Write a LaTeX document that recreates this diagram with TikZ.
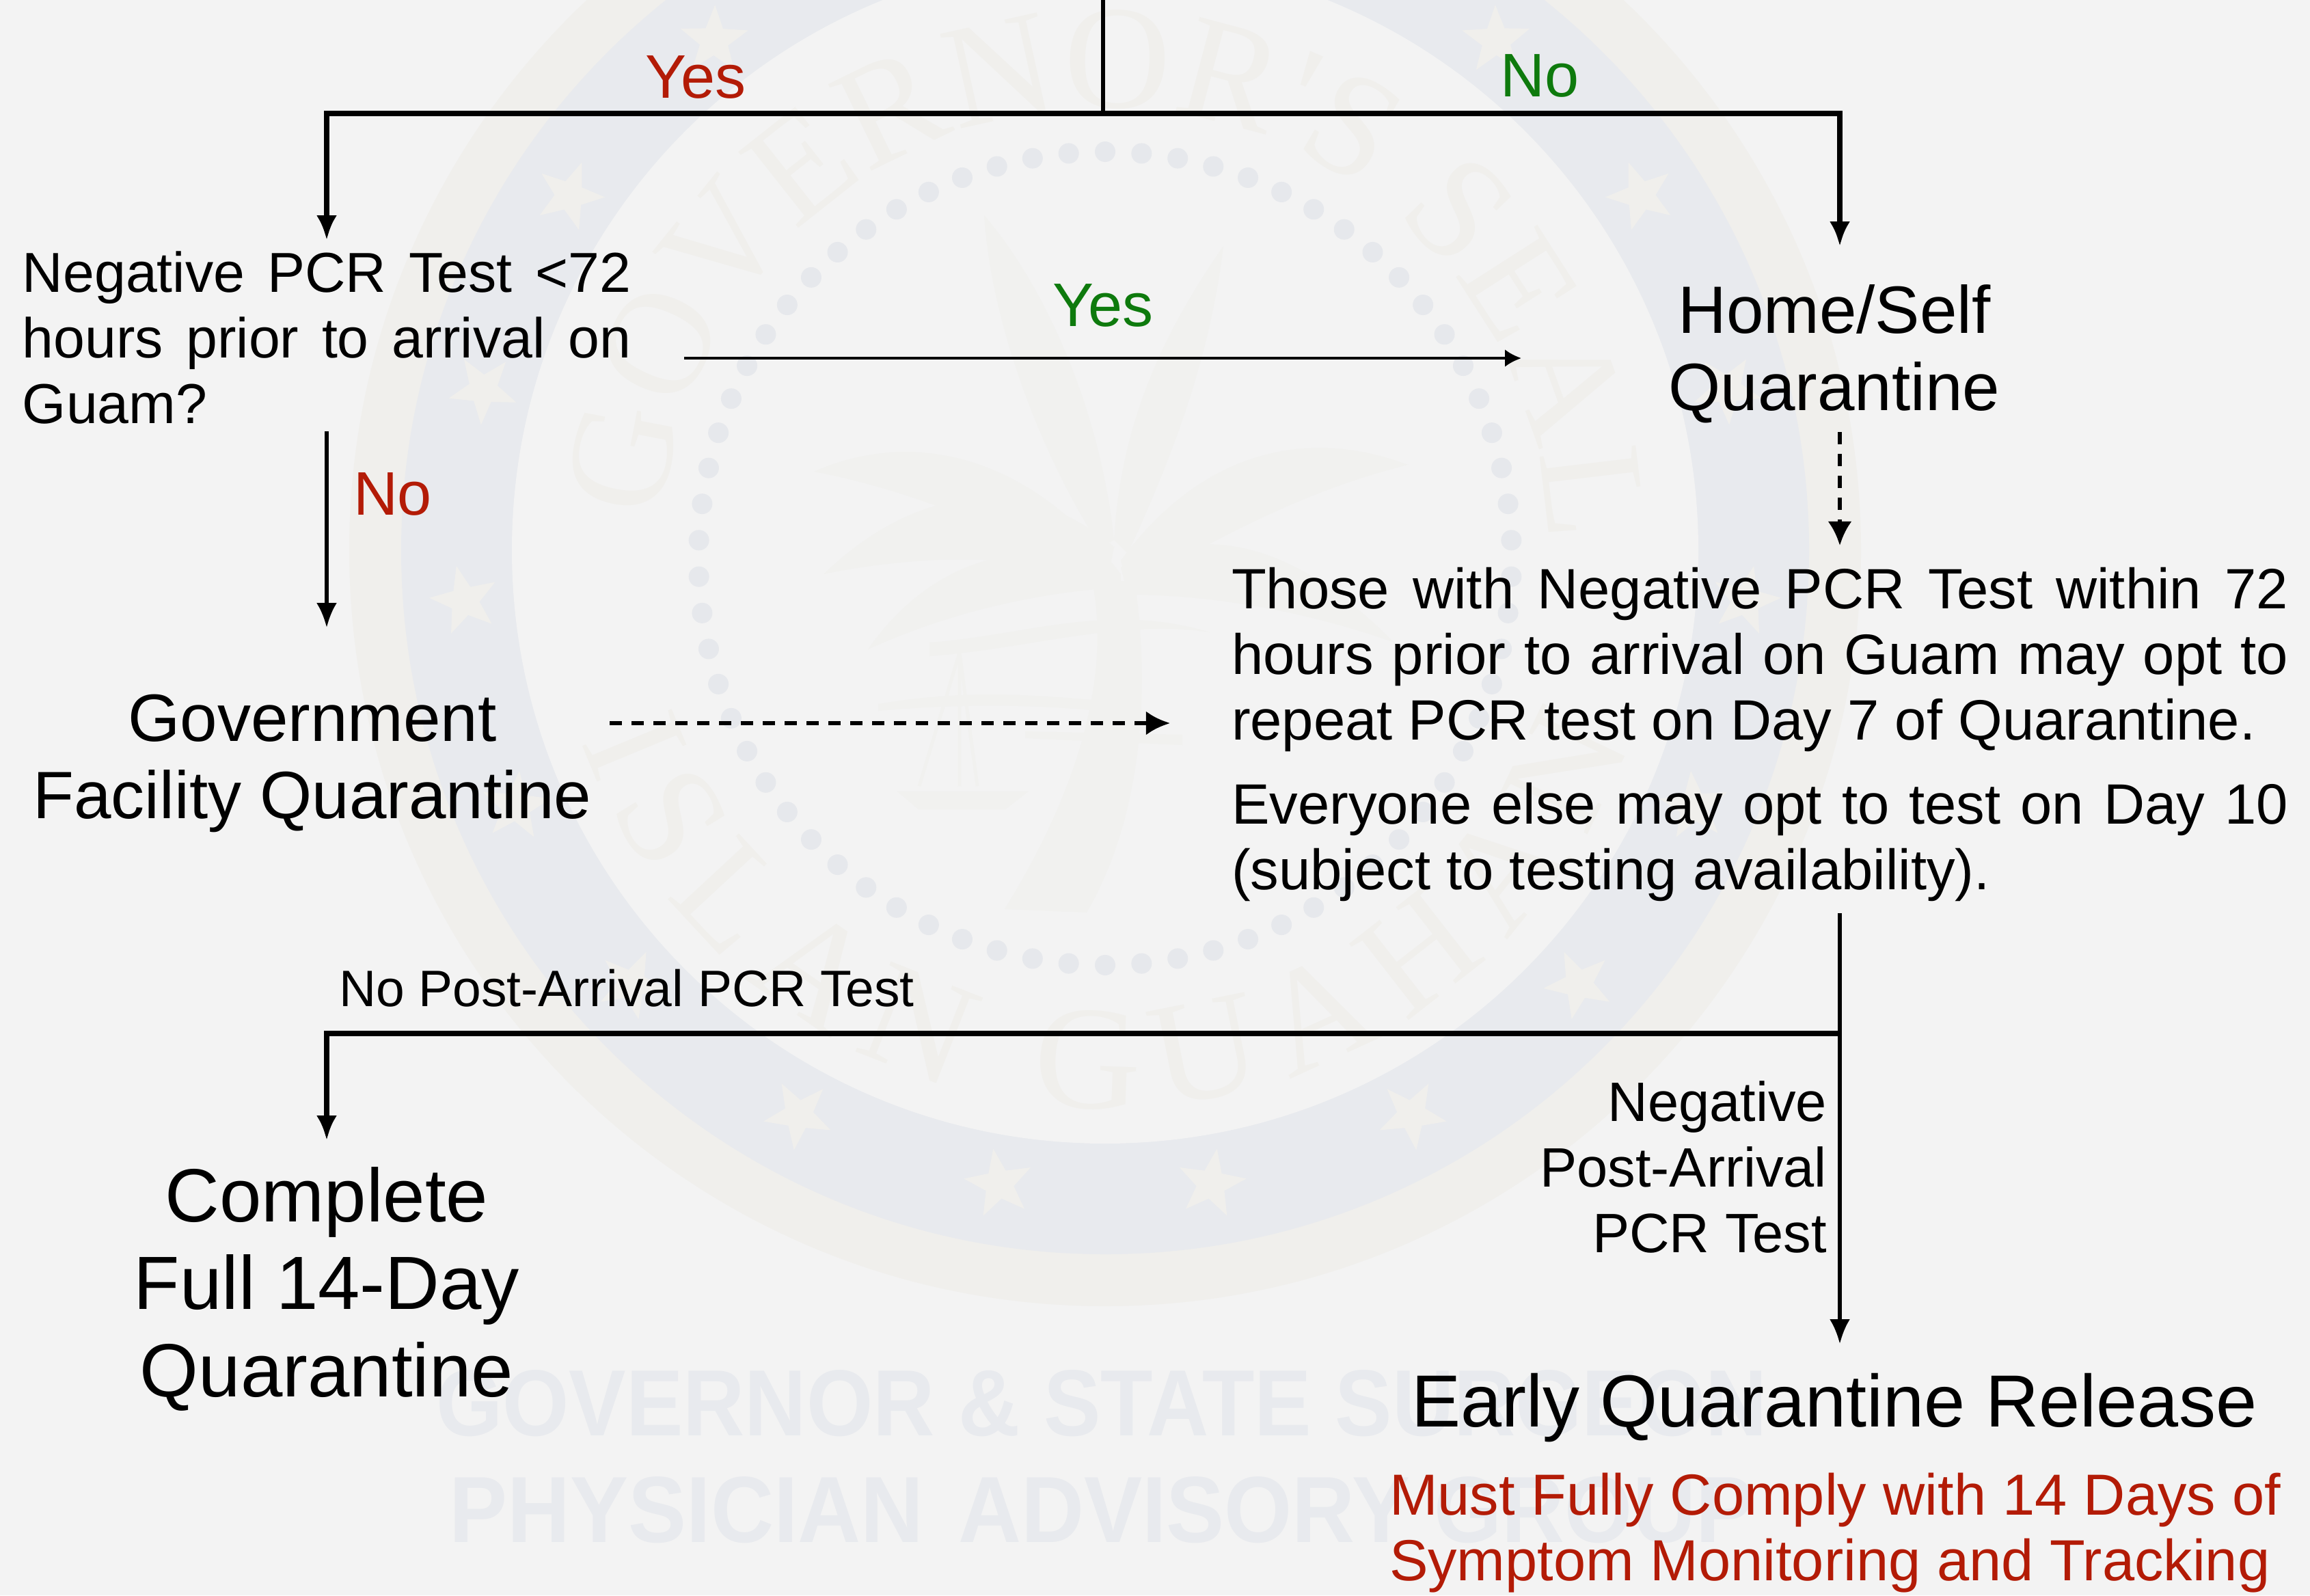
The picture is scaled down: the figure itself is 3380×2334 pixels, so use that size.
\documentclass[tikz,border=0pt]{standalone}
\usepackage{fontspec}
\setmainfont{Liberation Sans}
\newfontfamily\wmfont{Liberation Sans}
\newfontfamily\sealfont{Liberation Serif}
\usetikzlibrary{arrows.meta,shapes.geometric,decorations.text}
\definecolor{bgc}{HTML}{F3F3F3}
\definecolor{creamc}{HTML}{F0EFEC}
\definecolor{bluec}{HTML}{E8EAEE}
\definecolor{dotc}{HTML}{E6E8EC}
\definecolor{redc}{HTML}{B31B06}
\definecolor{greenc}{HTML}{0E7A0D}
\definecolor{palmc}{HTML}{F1F1EF}
\tikzset{
  lbl/.style={inner sep=0pt,outer sep=0pt,font=\fontsize{20.3}{24}\selectfont,text=black,anchor=base west},
  just/.style={lbl,align=justify},
  big/.style={inner sep=0pt,outer sep=0pt,font=\fontsize{24.5}{28.25}\selectfont,align=center,anchor=base},
  huge/.style={inner sep=0pt,outer sep=0pt,font=\fontsize{27.6}{32}\selectfont,align=center,anchor=base},
  ansr/.style={inner sep=0pt,outer sep=0pt,font=\fontsize{22.5}{27}\selectfont,text=redc,anchor=base},
  ansg/.style={inner sep=0pt,outer sep=0pt,font=\fontsize{22.5}{27}\selectfont,text=greenc,anchor=base},
  heavy/.style={line width=1.85pt,line join=miter},
  mid/.style={line width=1.35pt},
  fine/.style={line width=0.9pt},
  tipbig/.style={-{Latex[length=9pt,width=7.5pt]}},
  tipsmall/.style={-{Latex[length=6pt,width=6.4pt]}},
  tipdash/.style={-{Latex[length=8.8pt,width=8.8pt]}},
  dotline/.style={line width=1.5pt,dash pattern=on 4.5pt off 3.5pt},
  wstar/.style={star,star points=5,star point ratio=2.4,fill=creamc,minimum size=26pt,inner sep=0pt},
  sealdot/.style={circle,fill=dotc,minimum size=7.5pt,inner sep=0pt},
  wm/.style={inner sep=0pt,font=\wmfont\bfseries,text=bluec},
  frond/.style={fill=palmc},
  scaleline/.style={draw=palmc,line width=1.2pt},
}
\begin{document}
\begin{tikzpicture}[x=0.25pt,y=-0.25pt]
\useasboundingbox (0,0) rectangle (3380,2334);
\fill[bgc] (0,0) rectangle (3380,2334);
% --- seal rings
\coordinate (sc) at (1617,805);
\fill[creamc] (sc) circle[radius=276.5pt];
\fill[bluec] (sc) circle[radius=257.5pt];
\fill[bgc] (sc) circle[radius=217pt];
% stars on the ring
\foreach \a in {9.5,28.5,47.5,66.5,85.5,104.5,123.5,142.5} {
  \pgfmathsetmacro\sx{940*sin(\a)}
  \pgfmathsetmacro\sy{805+940*cos(\a)}
  \node[wstar,rotate=\a] (sl\a) at ({1617-\sx},\sy) {};
  \node[wstar,rotate=-\a] (sr\a) at ({1617+\sx},\sy) {};
}
% dots
\foreach \i in {0,...,69} {
  \pgfmathsetmacro\ddx{1617+595*sin(\i*5.142857)}
  \pgfmathsetmacro\ddy{817-595*cos(\i*5.142857)}
  \node[sealdot] (sd\i) at (\ddx,\ddy) {};
}
% ring lettering
\begin{scope}[shift={(sc)},x=1pt,y=1pt]
  \path[decorate,decoration={text along path,text align={fit to path},
    text={|\fontsize{54}{54}\sealfont\color{creamc}|GOVERNOR'S SEAL}}]
    (176:162) arc[start angle=176,end angle=1,radius=162];
  \path[decorate,decoration={text along path,text align={fit to path},
    text={|\fontsize{54}{54}\sealfont\color{creamc}|ISLAN GUAHAN}}]
    (200:204) arc[start angle=200,end angle=340,radius=204];
\end{scope}
% palm tree
\fill[palmc] (1598,850) .. controls (1620,960) and (1600,1120) .. (1470,1330)
  -- (1590,1335) .. controls (1680,1180) and (1680,980) .. (1660,850) -- cycle;
\fill[frond] (1640,840) .. controls (1520,680) and (1350,620) .. (1191,690)
  .. controls (1350,720) and (1500,790) .. (1640,860) -- cycle;
\fill[frond] (1630,800) .. controls (1500,690) and (1340,710) .. (1205,840)
  .. controls (1350,810) and (1500,810) .. (1620,850) -- cycle;
\fill[frond] (1625,830) .. controls (1500,780) and (1360,820) .. (1270,950)
  .. controls (1380,900) and (1500,870) .. (1625,860) -- cycle;
\fill[frond] (1630,790) .. controls (1610,600) and (1530,420) .. (1440,315)
  .. controls (1450,470) and (1520,660) .. (1610,800) -- cycle;
\fill[frond] (1630,790) .. controls (1640,620) and (1700,490) .. (1790,360)
  .. controls (1770,530) and (1710,680) .. (1650,810) -- cycle;
\fill[frond] (1640,820) .. controls (1750,670) and (1900,620) .. (2060,680)
  .. controls (1900,720) and (1780,790) .. (1650,860) -- cycle;
\fill[frond] (1640,830) .. controls (1770,760) and (1900,800) .. (2040,940)
  .. controls (1900,890) and (1760,870) .. (1650,870) -- cycle;
\fill[palmc] (1360,940) .. controls (1500,930) and (1620,880) .. (1770,925)
  .. controls (1640,905) and (1500,950) .. (1360,960) -- cycle;
\fill[palmc] (1285,1030) .. controls (1400,1010) and (1500,1015) .. (1610,1025)
  -- (1610,1040) .. controls (1500,1030) and (1400,1030) .. (1285,1040) -- cycle;
\fill[palmc] (1500,1070) -- (1730,1075) -- (1730,1090) -- (1500,1080) -- cycle;
% scales
\draw[scaleline] (1404,955) -- (1345,1150) (1404,955) -- (1430,1150) (1404,955) -- (1404,1150);
\draw[scaleline,fill=palmc] (1319,1160) -- (1498,1160) -- (1470,1182) -- (1345,1182) -- cycle;
% --- watermark text
\node[wm] (wm1) at (1612,2053) {\resizebox{487pt}{24pt}{GOVERNOR \& STATE SURGEON}};
\node[wm] (wm2) at (1612,2209) {\resizebox{477pt}{24pt}{PHYSICIAN\hspace{0.12em} ADVISORY GROUP}};
% --- labels
\node[ansr] (yes1) at (1018,143) {Yes};
\node[ansg] (no1) at (2253,141) {No};
\node[ansg] (yes2) at (1614,477) {Yes};
\node[ansr,anchor=base west] (no2) at (517,753) {No};
\node[just,font=\fontsize{20.6}{24}\selectfont,text width=222.5pt] (q1) at (33,427) {Negative PCR Test <72\linebreak hours prior to arrival on\linebreak Guam?};
\node[big] (home) at (2684,600) {Home/Self\\Quarantine};
\node[big] (gov) at (457,1197) {Government\\Facility Quarantine};
\node[just,font=\fontsize{20.8}{24}\selectfont,text width=386.5pt] (those) at (1802,890) {Those with Negative PCR Test within 72\linebreak hours prior to arrival on Guam may opt to\linebreak repeat PCR test on Day 7 of Quarantine.};
\node[just,font=\fontsize{20.8}{24}\selectfont,text width=386.5pt] (every) at (1802,1205) {Everyone else may opt to test on Day 10\linebreak (subject to testing availability).};
\node[lbl,font=\fontsize{18.75}{24}\selectfont] (nopost) at (496,1472) {No Post-Arrival PCR Test};
\node[lbl,align=right,anchor=base east] (negpost) at (2673,1832) {Negative\\Post-Arrival\\PCR Test};
\node[huge] (full) at (478,2043) {Complete\\Full 14-Day\\Quarantine};
\node[huge,font=\fontsize{27}{32}\selectfont] (early) at (2684,2087) {Early Quarantine Release};
\node[just,font=\fontsize{21.2}{24}\selectfont,text=redc,text width=326pt] (must) at (2033,2216) {Must Fully Comply with 14 Days of\linebreak Symptom Monitoring and Tracking};
% --- connector points
\coordinate (top) at (1614,0);
\coordinate (split) at (1614,166);
\coordinate (tl) at (478,166);
\coordinate (tr) at (2692,166);
\coordinate (tla) at (478,351);
\coordinate (tra) at (2692,360);
\coordinate (ys) at (1001,524);
\coordinate (ye) at (2226,524);
\coordinate (ns) at (478,631);
\coordinate (ne) at (478,918);
\coordinate (ds) at (892,1058);
\coordinate (de) at (1712,1058);
\coordinate (vs) at (2692,632);
\coordinate (ve) at (2692,798);
\coordinate (ms) at (2692,1336);
\coordinate (mj) at (2692,1512);
\coordinate (me) at (2692,1966);
\coordinate (bl) at (478,1512);
\coordinate (bla) at (478,1668);
% --- connectors
\draw[mid] (top) -- (split);
\draw[heavy,tipbig] (split) -- (tl) -- (tla);
\draw[heavy,tipbig] (split) -- (tr) -- (tra);
\draw[fine,tipsmall] (ys) -- (ye);
\draw[mid,tipbig] (ns) -- (ne);
\draw[dotline,tipdash] (ds) -- (de);
\draw[dotline,tipdash] (vs) -- (ve);
\draw[mid,tipbig] (ms) -- (me);
\draw[heavy,tipbig] (mj) -- (bl) -- (bla);
\end{tikzpicture}
\end{document}
